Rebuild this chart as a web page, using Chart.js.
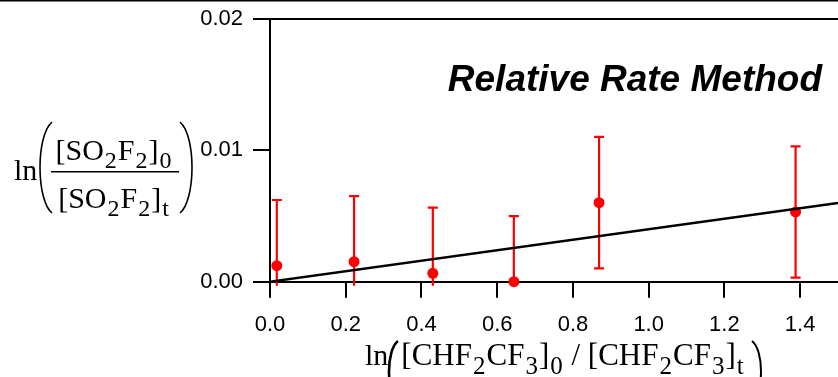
<!DOCTYPE html>
<html>
<head>
<meta charset="utf-8">
<script src="https://cdn.jsdelivr.net/npm/chart.js@4.4.0/dist/chart.umd.min.js"></script>
<style>
  html, body { margin: 0; padding: 0; background: #fff; }
  #wrap { width: 838px; height: 377px; }
</style>
</head>
<body>
<div id="wrap"><canvas id="myChart" width="838" height="377"></canvas></div>
<script>
// data
const xVals = [0.018, 0.222, 0.430, 0.644, 0.869, 1.388];
const yVals = [0.00122, 0.00152, 0.00064, 0.0, 0.00602, 0.00531];
const yErr = [0.005, 0.005, 0.005, 0.005, 0.005, 0.005];

// fitted line
const fitX = [0, 1.5];
const fitY = [0, 0.006];

const plotTitle = 'Relative Rate Method';

const serif = '"Liberation Serif", "Times New Roman", serif';
const sans = '"Liberation Sans", Arial, sans-serif';

// draws text with subscripts, parts = [[text, isSub], ...]
function drawRich(ctx, parts, cx, baseline, size) {
    const normal = `${size}px ${serif}`;
    const small = `${Math.round(size * 0.8)}px ${serif}`;
    let w = 0;
    parts.forEach(([t, sub]) => {
        ctx.font = sub ? small : normal;
        w += ctx.measureText(t).width + (sub ? 2 : 0);
    });
    let x = cx - w / 2;
    ctx.textAlign = 'left';
    ctx.textBaseline = 'alphabetic';
    parts.forEach(([t, sub]) => {
        ctx.font = sub ? small : normal;
        if (sub) x += 1;
        ctx.fillText(t, x, sub ? baseline + size * 0.28 : baseline);
        x += ctx.measureText(t).width + (sub ? 1 : 0);
    });
    return w;
}

// tall thin bracket, dir = 1 for "(" and -1 for ")"
function paren(ctx, x, top, bottom, bulge, dir, lw) {
    const h = bottom - top;
    ctx.save();
    ctx.lineWidth = lw;
    ctx.strokeStyle = '#000';
    ctx.beginPath();
    ctx.moveTo(x, top);
    ctx.bezierCurveTo(x - dir * bulge, top + h * 0.15, x - dir * bulge, bottom - h * 0.15, x, bottom);
    ctx.stroke();
    ctx.restore();
}

const errorBars = {
    id: 'errorBars',
    beforeDatasetsDraw(chart) {
        const { ctx, chartArea: a, scales: { x, y } } = chart;
        const clipBottom = y.getPixelForValue(-0.0003);
        ctx.save();
        ctx.beginPath();
        ctx.rect(a.left, a.top, a.right - a.left, clipBottom - a.top);
        ctx.clip();
        ctx.strokeStyle = '#ff0000';
        ctx.lineWidth = 2.2;
        for (let i = 0; i < xVals.length; i++) {
            const px = x.getPixelForValue(xVals[i]);
            const top = y.getPixelForValue(yVals[i] + yErr[i]);
            const bot = y.getPixelForValue(yVals[i] - yErr[i]);
            ctx.beginPath();
            ctx.moveTo(px, top);
            ctx.lineTo(px, bot);
            ctx.moveTo(px - 5, top);
            ctx.lineTo(px + 5, top);
            ctx.moveTo(px - 5, bot);
            ctx.lineTo(px + 5, bot);
            ctx.stroke();
        }
        ctx.restore();
    }
};

const labels = {
    id: 'labels',
    afterDraw(chart) {
        const ctx = chart.ctx;
        ctx.save();
        ctx.fillStyle = '#000';

        // border line at the very top
        ctx.fillRect(0, 0, chart.width, 1.5);

        // title
        ctx.font = `italic bold 37px ${sans}`;
        ctx.textAlign = 'right';
        ctx.textBaseline = 'alphabetic';
        ctx.fillText(plotTitle, 822, 91);

        // y axis title
        ctx.font = `30px ${serif}`;
        ctx.textAlign = 'left';
        ctx.fillText('ln', 14, 180);
        paren(ctx, 52, 122, 213, 16, 1, 1.6);
        drawRich(ctx, [['[SO', 0], ['2', 1], ['F', 0], ['2', 1], [']', 0], ['0', 1]], 114, 160, 30);
        ctx.fillRect(51, 171, 128, 1.5);
        drawRich(ctx, [['[SO', 0], ['2', 1], ['F', 0], ['2', 1], [']', 0], ['t', 1]], 114, 208, 30);
        paren(ctx, 180, 122, 213, 16, -1, 1.6);

        // x axis title
        ctx.font = `30px ${serif}`;
        ctx.textAlign = 'left';
        ctx.fillText('ln', 365, 365);
        paren(ctx, 398, 341, 402, 12, 1, 2.6);
        drawRich(ctx, [['[CHF', 0], ['2', 1], ['CF', 0], ['3', 1], [']', 0], ['0', 1],
            [' / [CHF', 0], ['2', 1], ['CF', 0], ['3', 1], [']', 0], ['t', 1]], 573, 365, 31);
        paren(ctx, 752, 341, 402, 12, -1, 2);
        ctx.restore();
    }
};

const ctx = document.getElementById('myChart').getContext('2d');

const myChart = new Chart(ctx, {
    data: {
        datasets: [
            {
                type: 'scatter',
                data: xVals.map((v, i) => ({ x: v, y: yVals[i] })),
                backgroundColor: '#ff0000',
                borderWidth: 0,
                pointRadius: 5.5,
                pointHoverRadius: 5.5,
                clip: false,
                order: 1,
            },
            {
                type: 'line',
                data: fitX.map((v, i) => ({ x: v, y: fitY[i] })),
                borderColor: '#000',
                borderWidth: 2.5,
                pointRadius: 0,
                fill: false,
                order: 0,
            },
        ],
    },
    options: {
        responsive: false,
        animation: false,
        layout: { autoPadding: false, padding: { top: 19, left: 0, right: 0, bottom: 0 } },
        plugins: { legend: { display: false }, tooltip: { enabled: false } },
        scales: {
            x: {
                type: 'linear',
                position: 'bottom',
                min: 0,
                max: 1.5,
                afterFit: (s) => {
                    s.height = 95.3;
                    s.paddingLeft = 0;
                    s.paddingRight = 0;
                },
                border: { display: true, color: '#000', width: 2 },
                grid: { drawOnChartArea: false, color: '#000', lineWidth: 2, tickLength: 16 },
                ticks: {
                    stepSize: 0.2,
                    includeBounds: false,
                    maxRotation: 0,
                    color: '#000',
                    font: { family: sans, size: 22 },
                    padding: 14,
                    callback: (v) => v.toFixed(1),
                },
            },
            y: {
                type: 'linear',
                min: 0,
                max: 0.02,
                afterFit: (s) => {
                    s.width = 270;
                    s.paddingTop = 0;
                    s.paddingBottom = 0;
                },
                border: { display: true, color: '#000', width: 2 },
                grid: {
                    color: (c) => (c.tick && Math.abs(c.tick.value - 0.02) < 1e-9) ? '#000' : 'rgba(0,0,0,0)',
                    tickColor: '#000',
                    lineWidth: 2,
                    tickLength: 17,
                },
                ticks: {
                    stepSize: 0.01,
                    includeBounds: false,
                    color: '#000',
                    font: { family: sans, size: 22 },
                    padding: 10,
                    callback: (v) => v.toFixed(2),
                },
            },
        },
    },
    plugins: [errorBars, labels],
});
</script>
</body>
</html>
